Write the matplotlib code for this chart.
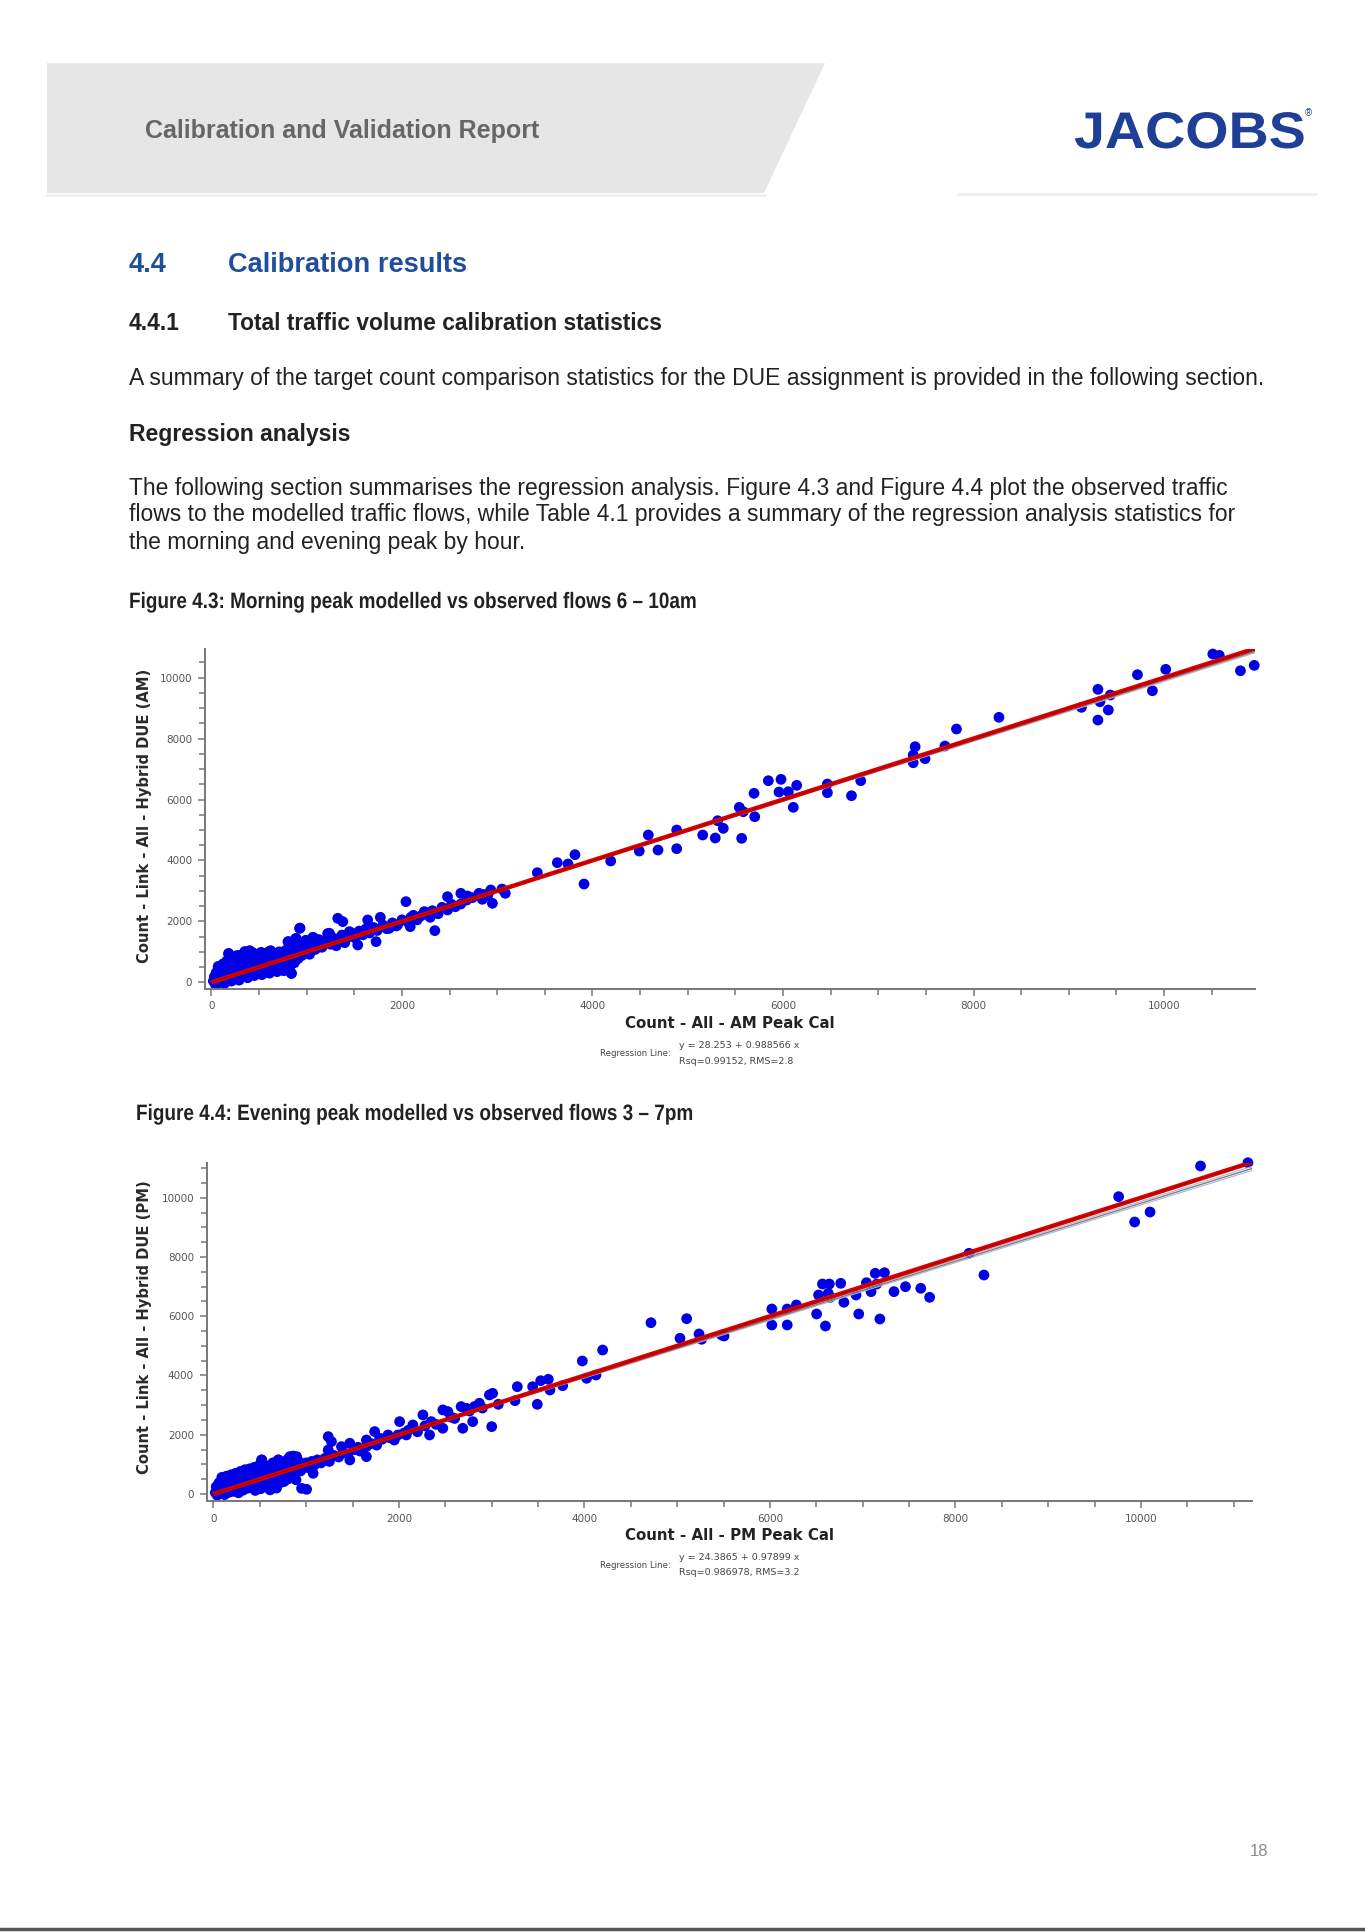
import numpy as np
import matplotlib.pyplot as plt
from matplotlib.patches import Polygon, PathPatch
from matplotlib.textpath import TextPath
from matplotlib.font_manager import FontProperties
from matplotlib.transforms import Affine2D

# ---------------------------------------------------------------
# dados lidos da figura (contagem observada x modelada)
# ---------------------------------------------------------------
# manha (AM) - nuvem densa perto da origem
am_obs = [20, 30, 40, 50, 60, 70, 80, 90, 100, 110, 120, 130, 140, 150, 160, 170, 180, 190, 200, 210,
          220, 230, 240, 250, 260, 270, 280, 290, 300, 310, 320, 330, 340, 350, 360, 370, 380, 390, 400, 410,
          420, 430, 440, 450, 460, 470, 480, 490, 500, 510, 520, 530, 540, 550, 560, 570, 580, 590, 600, 610,
          620, 630, 640, 650, 660, 670, 680, 690, 700, 710, 720, 730, 740, 750, 760, 770, 780, 790, 800, 810,
          820, 830, 840, 850, 860, 870, 880, 890, 900, 910, 920, 930, 940, 950, 960, 970, 990, 1010, 1030, 1050,
          1070, 1090, 1110, 1130, 1160, 1190, 1220, 1250, 1280, 1310, 1340, 1370, 1400, 1430, 1470, 1510, 1550,
          1590, 1620, 1660, 1700, 1740, 1800, 1840, 1900, 1940, 2000, 2060, 2120, 2160, 2200, 2260, 2320, 2380,
          2420, 2520, 2560, 2680, 2740, 2860, 2900, 3050]
am_mod = [40, 180, -60, 320, 100, 520, -20, 250, 420, 60, 600, 180, -30, 350, 700, 100, 950, 460, 230, 40,
          620, 330, 780, 150, 520, 880, 280, 70, 680, 420, 900, 200, 560, 1010, 330, 760, 150, 480, 850, 280,
          640, 980, 400, 220, 760, 560, 900, 330, 680, 460, 980, 250, 800, 580, 380, 930, 700, 480, 1000, 300,
          820, 600, 420, 950, 720, 520, 880, 350, 640, 1000, 780, 460, 900, 560, 380, 720, 1050, 620, 850, 1330,
          480, 960, 290, 760, 1140, 640, 1420, 900, 1250, 780, 1050, 1780, 1300, 880, 1150, 1000, 1380, 1180, 920, 1300,
          1470, 1080, 1280, 1400, 1150, 1350, 1600, 1250, 1450, 1200, 1380, 1550, 1300, 1480, 1620, 1450, 1680,
          1560, 1750, 1620, 1800, 1700, 1880, 1760, 1950, 1850, 2050, 1980, 2200, 2050, 2180, 2280, 2350, 2250,
          2460, 2560, 2480, 2700, 2780, 2880, 2850, 3060]

# manha (AM) - pontos isolados
am_obs2 = [181, 314, 401, 523, 621, 838, 925, 838, 803, 890, 1064, 1239, 1326, 1379, 1448, 1536, 1640, 1728,
           1773, 1867, 1954, 2042, 2087, 2094, 2234, 2296, 2345, 2478, 2478, 2618, 2618, 2687, 2809, 2844, 2932,
           2949, 3085, 3421, 3631, 3743, 3816, 3911, 4191, 4491, 4586, 4688, 4884, 4884, 5157, 5289, 5314, 5373,
           5566, 5541, 5583, 5703, 5696, 5846, 5979, 5958, 6056, 6144, 6108, 6466, 6466, 6719, 6816, 7367, 7387,
           7367, 7491, 7700, 7821, 8267, 9133, 9306, 9306, 9328, 9415, 9436, 9721, 9878, 10018, 10512, 10580,
           10802, 10947]
am_mod2 = [930, 897, 1039, 974, 1039, 295, 1772, 1280, 1335, 1444, 1477, 1608, 2100, 1991, 1663, 1225, 2046, 1335,
           2133, 1772, 1882, 2647, 1827, 2133, 2319, 2133, 1696, 2811, 2374, 2921, 2571, 2833, 2921, 2724, 3030,
           2593, 2921, 3598, 3926, 3882, 4189, 3226, 3981, 4309, 4835, 4342, 4998, 4385, 4835, 4736, 5304, 5054,
           4725, 5743, 5599, 5435, 6203, 6617, 6661, 6245, 6256, 6465, 5743, 6508, 6223, 6124, 6617, 7460, 7733,
           7207, 7338, 7755, 8313, 8697, 9025, 9616, 8608, 9209, 8937, 9429, 10096, 9570, 10272, 10775, 10731,
           10226, 10403]

# tarde (PM) - nuvem densa perto da origem
pm_obs = [20, 30, 40, 50, 60, 70, 80, 90, 100, 110, 120, 130, 140, 150, 160, 170, 180, 190, 200, 210,
          220, 230, 240, 250, 260, 270, 280, 290, 300, 310, 320, 330, 340, 350, 360, 370, 380, 390, 400, 410,
          420, 430, 440, 450, 460, 470, 480, 490, 500, 510, 520, 530, 540, 550, 560, 570, 580, 590, 600, 610,
          620, 630, 640, 650, 660, 670, 680, 690, 700, 710, 720, 730, 740, 750, 760, 770, 780, 790, 800, 810,
          820, 830, 840, 850, 860, 870, 880, 890, 900, 920, 940, 960, 980, 1000, 1030, 1060, 1090, 1120, 1160,
          1200, 1250, 1300, 1350, 1400, 1450, 1520, 1580, 1650, 1700, 1760, 1820, 1900, 1950, 2050, 2100, 2200,
          2280, 2400, 2560, 2600, 2760, 2900]
pm_mod = [50, 250, -40, 150, 380, 30, 260, 560, 120, 400, -20, 300, 600, 180, 450, 60, 330, 650, 200, 520,
          90, 380, 700, 250, 560, 40, 420, 760, 300, 600, 130, 480, 820, 350, 650, 200, 540, 850, 400, 700,
          250, 580, 900, 120, 460, 760, 320, 620, 1000, 180, 1150, 500, 800, 350, 680, 950, 250, 560, 850, 140,
          450, 750, 1050, 330, 620, 900, 200, 500, 1150, 780, 380, 1000, 600, 850, 420, 1100, 700, 950, 500, 1200,
          800, 1050, 620, 900, 1280, 720, 1000, 480, 850, 1100, 780, 1000, 900, 1050, 880, 1100, 980, 1150, 1050,
          1200, 1100, 1300, 1250, 1400, 1350, 1500, 1450, 1600, 1700, 1650, 1850, 1900, 1820, 2050, 2150, 2100,
          2300, 2350, 2600, 2550, 2800, 2900]

# tarde (PM) - pontos isolados
pm_obs2 = [520, 699, 824, 896, 950, 1004, 1075, 1111, 1237, 1272, 1237, 1380, 1470, 1470, 1559, 1649, 1649, 1738,
           1792, 1882, 2007, 1989, 2079, 2150, 2258, 2330, 2348, 2473, 2473, 2527, 2670, 2688, 2724, 2813, 2795,
           2867, 2975, 3000, 3010, 3071, 3251, 3276, 3441, 3491, 3528, 3610, 3628, 3765, 3977, 4023, 4124, 4196,
           4717, 5030, 5102, 5235, 5263, 5479, 5505, 6020, 6020, 6186, 6186, 6285, 6503, 6524, 6566, 6640, 6598,
           6628, 6648, 6763, 6797, 6928, 6957, 7040, 7090, 7135, 7151, 7185, 7234, 7337, 7461, 7626, 7721, 8146,
           8307, 9759, 9932, 10098, 10642, 11153]
pm_mod2 = [1149, 1149, 1261, 1261, 191, 158, 698, 1092, 1937, 1768, 1486, 1599, 1149, 1712, 1576, 1261, 1824, 2106,
           1880, 1993, 2443, 1993, 1993, 2331, 2669, 1993, 2443, 2838, 2218, 2781, 2950, 2218, 2894, 2950, 2443,
           3063, 3344, 2274, 3398, 3027, 3149, 3622, 3622, 3027, 3824, 3871, 3510, 3655, 4489, 3905, 4016, 4860,
           5781, 5255, 5917, 5400, 5221, 5366, 5332, 6244, 5704, 6244, 5704, 6379, 6075, 6716, 7087, 7087, 5670,
           6773, 6638, 7110, 6470, 6716, 6075, 7132, 6829, 7449, 7087, 5906, 7469, 6829, 6996, 6942, 6638, 8123,
           7391, 10035, 9180, 9517, 11070, 11181]

# coeficientes da regressao (do rodape de cada grafico)
am_a, am_b = 28.253, 0.988566
pm_a, pm_b = 24.3865, 0.97899

W, H = 1365, 1932
fig = plt.figure(figsize=(W / 100, H / 100), dpi=100)
fig.patch.set_facecolor('white')

TXT = '#222222'
BLUE = '#1f4e9c'


def put(x, y, s, **kw):
    # posiciona texto em pixels da pagina (origem no topo)
    kw.setdefault('va', 'center')
    kw.setdefault('family', 'Liberation Sans')
    fig.text(x / W, 1 - y / H, s, **kw)


def put_path(x, yb, s, size, sx, color, weight='bold'):
    # texto como contorno, com largura ajustavel (fonte estreita / logo largo)
    tp = TextPath((0, 0), s, size=size, prop=FontProperties(family='Liberation Sans', weight=weight))
    tr = Affine2D().scale(sx, 1).translate(x, H - yb)
    fig.add_artist(PathPatch(tp, transform=tr, facecolor=color, edgecolor='none'))


def pg(x, y):
    return (x / W, 1 - y / H)


# ---------------------------------------------------------------
# cabecalho
# ---------------------------------------------------------------
band = Polygon([pg(47, 63), pg(825, 63), pg(764, 193), pg(47, 193)], closed=True,
               transform=fig.transFigure, facecolor='#e6e6e6', edgecolor='none')
fig.patches.append(band)
fig.add_artist(plt.Line2D([47 / W, 764 / W], [1 - 195 / H, 1 - 195 / H], color='#f0f0f0', lw=2,
                          transform=fig.transFigure))
fig.add_artist(plt.Line2D([958 / W, 1316 / W], [1 - 194 / H, 1 - 194 / H], color='#eeeeee', lw=2,
                          transform=fig.transFigure))
put(145, 131, 'Calibration and Validation Report', fontsize=18, fontweight='bold', color='#666666')
put_path(1074, 148, 'JACOBS', 51.5, 1.08, '#1f3f97')
put(1305, 113, '®', fontsize=7, color='#1f3f97')

# ---------------------------------------------------------------
# texto da pagina
# ---------------------------------------------------------------
put(129, 265, '4.4', fontsize=19.6, fontweight='bold', color=BLUE)
put(228, 265, 'Calibration results', fontsize=19.6, fontweight='bold', color=BLUE)
put(129, 323, '4.4.1', fontsize=16.4, fontweight='bold', color=TXT)
put(228, 323, 'Total traffic volume calibration statistics', fontsize=16.4, fontweight='bold', color=TXT)
put(129, 378, 'A summary of the target count comparison statistics for the DUE assignment is provided '
              'in the following section.', fontsize=16.5, color=TXT)
put(129, 434, 'Regression analysis', fontsize=16.6, fontweight='bold', color=TXT)
put(129, 489, 'The following section summarises the regression analysis. Figure 4.3 and Figure 4.4 plot '
              'the observed traffic', fontsize=16.5, color=TXT)
put(129, 515, 'flows to the modelled traffic flows, while Table 4.1 provides a summary of the regression '
              'analysis statistics for', fontsize=16.5, color=TXT)
put(129, 542, 'the morning and evening peak by hour.', fontsize=16.5, color=TXT)
put_path(129, 608, 'Figure 4.3: Morning peak modelled vs observed flows 6 \u2013 10am', 22.3, 0.85, TXT)
put_path(136, 1120, 'Figure 4.4: Evening peak modelled vs observed flows 3 \u2013 7pm', 22.3, 0.85, TXT)
put(1250, 1852, '18', fontsize=12, color='#8a8a8a')
fig.add_artist(plt.Line2D([0, 1], [1 - 1929 / H, 1 - 1929 / H], color='#555555', lw=2.5,
                          transform=fig.transFigure))


# ---------------------------------------------------------------
# graficos de dispersao
# ---------------------------------------------------------------
def scatter_panel(box, xlim, ylim, xs, ys, a, b, band_d, xlab, ylab, xlab_y, ylab_y, reg_y, eq, stats):
    left, top, right, bottom = box
    ax = fig.add_axes([left / W, 1 - bottom / H, (right - left) / W, (bottom - top) / H])
    ax.set_xlim(xlim)
    ax.set_ylim(ylim)
    ax.scatter(xs, ys, s=60, color='#0000e6', edgecolors='none', zorder=2, clip_on=False)

    xx = np.array([0, xlim[1]])
    ax.plot(xx, a + (b + band_d) * xx, color='#a9b8d8', lw=0.8, zorder=3)
    ax.plot(xx, a + (b - band_d) * xx, color='#a9b8d8', lw=0.8, zorder=3)
    ax.plot(xx, a + b * xx, color='#808080', lw=1.0, zorder=3)
    ax.plot(xx, xx, color='#dc0000', lw=3.2, zorder=4, solid_capstyle='butt')
    ax.plot(xx, xx, color='#7a0000', lw=0.6, alpha=0.7, zorder=5)

    for sp in ['top', 'right']:
        ax.spines[sp].set_visible(False)
    for sp in ['left', 'bottom']:
        ax.spines[sp].set_color('#777777')
        ax.spines[sp].set_linewidth(1.4)
    ax.set_xticks(np.arange(0, 10001, 2000))
    ax.set_yticks(np.arange(0, 10001, 2000))
    ax.set_xticks(np.arange(0, xlim[1], 500), minor=True)
    ax.set_yticks(np.arange(0, ylim[1], 500), minor=True)
    ax.tick_params(which='both', colors='#777777', width=1.1, labelcolor='#555555', labelsize=7.5)
    ax.tick_params(which='major', length=5, pad=4)
    ax.tick_params(which='minor', length=4)
    ax.set_facecolor('none')

    cx = (left + right) / 2
    put(cx, xlab_y, xlab, fontsize=10.8, fontweight='bold', color='#222222', ha='center',
        family='DejaVu Sans')
    put(145, ylab_y, ylab, fontsize=10.6, fontweight='bold', color='#2a2a2a', ha='center', rotation=90,
        family='DejaVu Sans')
    put(671, reg_y, 'Regression Line:', fontsize=6.2, color='#444444', ha='right', family='DejaVu Sans')
    put(679, reg_y - 7.5, eq, fontsize=6.8, color='#444444', family='DejaVu Sans')
    put(679, reg_y + 7.5, stats, fontsize=6.8, color='#444444', family='DejaVu Sans')
    return ax


scatter_panel((204.6, 649, 1255, 989), (-72, 10955), (-220, 10940),
              am_obs + am_obs2, am_mod + am_mod2, am_a, am_b, 0.004,
              'Count - All - AM Peak Cal', 'Count - Link - All - Hybrid DUE (AM)', 1024, 816, 1053.5,
              'y = 28.253 + 0.988566 x', 'Rsq=0.99152, RMS=2.8')
scatter_panel((206.5, 1162.7, 1252, 1501), (-75, 11197), (-236, 11181),
              pm_obs + pm_obs2, pm_mod + pm_mod2, pm_a, pm_b, 0.006,
              'Count - All - PM Peak Cal', 'Count - Link - All - Hybrid DUE (PM)', 1536, 1327, 1565,
              'y = 24.3865 + 0.97899 x', 'Rsq=0.986978, RMS=3.2')

plt.savefig('out.png', dpi=100, facecolor='white')
